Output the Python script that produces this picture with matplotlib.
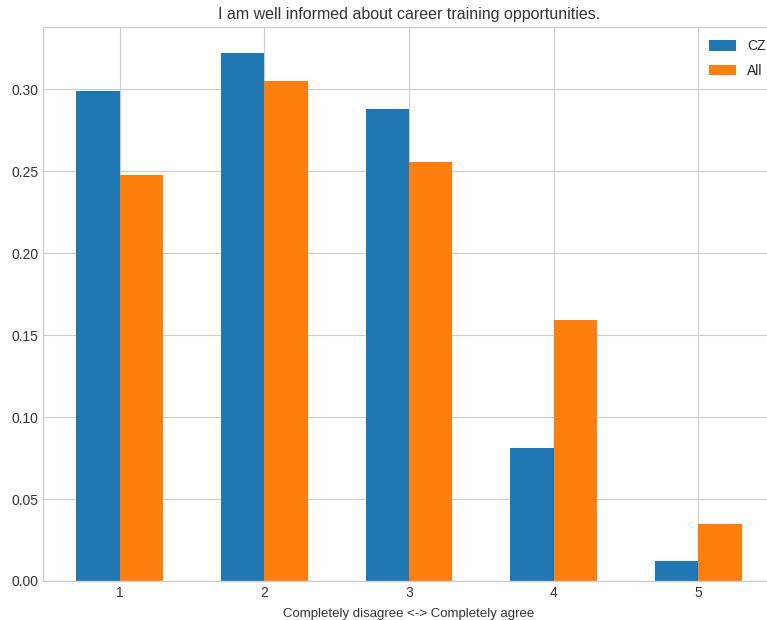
import numpy as np
import matplotlib.pyplot as plt

# -----------------------------
# Data
# -----------------------------
answers = [1, 2, 3, 4, 5]
cz = [0.299, 0.322, 0.288, 0.081, 0.012]
all_countries = [0.248, 0.305, 0.256, 0.159, 0.035]

title = "I am well informed about career training opportunities."
xlabel = "Completely disagree <-> Completely agree"

# -----------------------------
# Style
# -----------------------------
plt.style.use("seaborn-v0_8-whitegrid")
plt.rcParams["font.family"] = ["Liberation Sans", "DejaVu Sans"]

fig = plt.figure(figsize=(7.67, 6.2), dpi=100)
ax = fig.add_axes([43 / 767, 1 - 581 / 620, 732 / 767, 554 / 620])

x = np.array(answers)
width = 0.3
ax.bar(x - width / 2, cz, width, label="CZ", color="#1f77b4")
ax.bar(x + width / 2, all_countries, width, label="All", color="#ff7f0e")

ax.set_xticks(answers)
ax.set_title(title, fontsize=11.5, pad=6, color="#333333")
ax.set_xlabel(xlabel, fontsize=9.5, labelpad=6, color="#333333")
ax.tick_params(labelsize=10, labelcolor="#333333")
ax.legend(loc="upper right", fontsize=10, bbox_to_anchor=(1.0, 0.995),
          borderaxespad=0.3, handlelength=1.9, handleheight=0.8,
          labelspacing=0.75)

fig.savefig("out.png", dpi=100)
